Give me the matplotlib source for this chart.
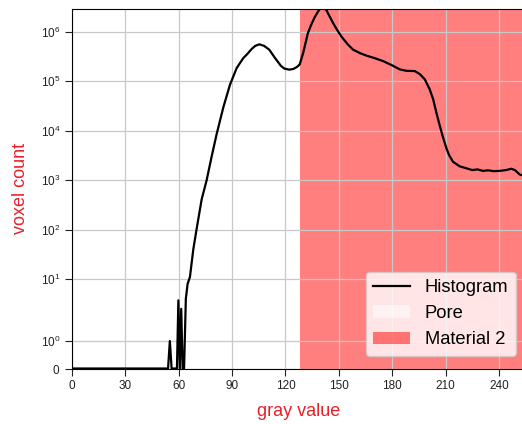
import numpy as np
import matplotlib
matplotlib.use("Agg")
import matplotlib.pyplot as plt
from matplotlib.ticker import NullLocator, LogFormatterSciNotation

plt.rcParams['font.family'] = ['Liberation Sans', 'DejaVu Sans']
plt.rcParams['mathtext.fontset'] = 'custom'
plt.rcParams['mathtext.rm'] = 'Liberation Sans'
plt.rcParams['mathtext.it'] = 'Liberation Sans'

gray = [0, 54, 55, 56, 59, 59.8, 60.6, 61.4, 62.2, 63, 64, 65, 66.3, 68.2, 70, 72.9,
        75.7, 78.5, 81.3, 85.1, 88.8, 92.6, 96.3, 98.5, 101, 103, 105.3, 108, 110.9,
        114, 117.5, 119.5, 122.2, 124.5, 126.5, 128, 130, 132.6, 134.5, 136.5,
        138.4, 140.3, 143, 145, 146.8, 149, 151.5, 155, 158, 162, 165.5, 170, 175,
        180, 184.3, 188, 192.7, 195.5, 198.3, 201, 203, 205, 206.7, 208.5, 210.5,
        212, 214.2, 218, 221.7, 225, 228, 231, 234, 237, 240.4, 244, 247, 249,
        251.7, 255]
counts = [0, 0, 1, 0, 0, 3.7, 0, 2.5, 0, 0, 4, 8, 11, 40, 100, 410,
          1000, 3000, 8500, 30000, 85000, 186000, 295000, 355000, 450000, 520000,
          560000, 520000, 436000,
          300000, 204000, 180000, 172000, 178000, 195000, 219000, 380000, 940000,
          1400000, 2000000,
          2600000, 3300000, 2750000, 2000000, 1500000, 1100000, 800000, 560000,
          436000, 370000, 331000, 295000, 255000,
          210000, 174000, 163000, 161000, 140000, 110000, 70000, 43600, 22000,
          12800, 7500, 4400,
          3200, 2350, 1900, 1740, 1600, 1650, 1540, 1580, 1520, 1540, 1600, 1700,
          1600, 1300, 1200]

pore_range = (0, 128)
material_range = (128, 255)
xticks = [0, 30, 60, 90, 120, 150, 180, 210, 240]
yticks = [0, 1, 10, 100, 1000, 10000, 100000, 1000000]

fig = plt.figure(figsize=(5.22, 4.24), dpi=100)
ax = fig.add_axes([72/522, 1 - 368.5/424, (525.6 - 72)/522, (368.5 - 9)/424])

ax.axvspan(*pore_range, color='white', alpha=0.5, label='Pore', lw=0)
ax.axvspan(*material_range, color='red', alpha=0.5, label='Material 2', lw=0)
line, = ax.plot(gray, counts, color='black', lw=1.6, label='Histogram')

ax.set_yscale('symlog', linthresh=2, linscale=1)
ax.set_xlim(0, 255)
ax.set_ylim(0, 2.9e6)
ax.set_yticks(yticks)
ax.yaxis.set_major_formatter(LogFormatterSciNotation(10))
ax.yaxis.set_minor_locator(NullLocator())
ax.set_xticks(xticks)
ax.tick_params(labelsize=8.5, length=5, colors='#222222')
ax.grid(True, color='#c8c8c8', lw=0.9)

ax.set_xlabel('gray value', color='#e8202a', fontsize=13, labelpad=7.5)
ax.set_ylabel('voxel count', color='#e8202a', fontsize=13, labelpad=8)

h, l = ax.get_legend_handles_labels()
order = [l.index('Histogram'), l.index('Pore'), l.index('Material 2')]
ax.legend([h[i] for i in order], [l[i] for i in order], loc='lower right',
          fontsize=13.2, bbox_to_anchor=(0.998, 0.01))

fig.savefig('out.png', dpi=100)
